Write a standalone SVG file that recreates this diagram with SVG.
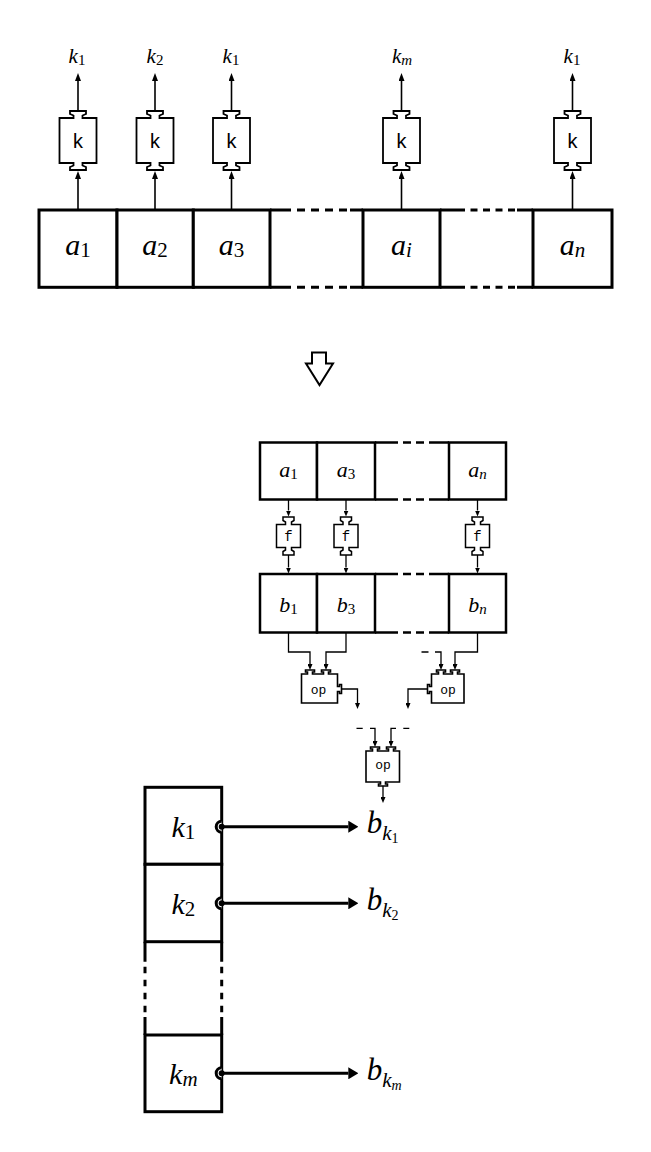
<svg xmlns="http://www.w3.org/2000/svg" xmlns:xlink="http://www.w3.org/1999/xlink" width="651" height="1152" viewBox="0 0 651 1152">
<style>
.cell{fill:#fff;stroke:#000;stroke-width:3}
.cellm{fill:#fff;stroke:#000;stroke-width:2.5}
.ln3{fill:none;stroke:#000;stroke-width:3}
.ln25{fill:none;stroke:#000;stroke-width:2.5}
.d1{fill:none;stroke:#000;stroke-width:3;stroke-dasharray:8 6}
.d2{fill:none;stroke:#000;stroke-width:3;stroke-dasharray:7 5.5}
.d3{fill:none;stroke:#000;stroke-width:2.5;stroke-dasharray:8 5}
.d4{fill:none;stroke:#000;stroke-width:3;stroke-dasharray:6.5 6.5}
.w1{fill:none;stroke:#000;stroke-width:1.6}
.w2{fill:none;stroke:#000;stroke-width:1.3}
.w3{fill:none;stroke:#000;stroke-width:3}
.op{fill:#fff;stroke:#000;stroke-width:1.6}
.m{font-family:"Liberation Serif","Times New Roman",serif;font-style:italic;fill:#000}
.up{font-style:normal}
.tt{font-family:"Liberation Mono",monospace;fill:#000;text-anchor:middle}
</style>
<defs>
<marker id="hA" markerUnits="userSpaceOnUse" viewBox="0 -3 8 6" refX="0" refY="0" markerWidth="8" markerHeight="6" orient="auto"><path d="M0,-3 L8,0 L0,3 Z" fill="#000"/></marker>
<marker id="hB" markerUnits="userSpaceOnUse" viewBox="0 -2.5 6 5" refX="0" refY="0" markerWidth="6" markerHeight="5" orient="auto"><path d="M0,-2.5 L6,0 L0,2.5 Z" fill="#000"/></marker>
<marker id="hC" markerUnits="userSpaceOnUse" viewBox="0 -6 10 12" refX="0" refY="0" markerWidth="10" markerHeight="12" orient="auto"><path d="M0,-6 L10,0 L0,6 Z" fill="#000"/></marker>
<path id="kbox" d="M-18.5,-22.5 H-4.5 V-25 L-8,-26.5 V-29.5 H8 V-26.5 L4.5,-25 V-22.5 H18.5 V22.5 H4.5 V25 L8,26.5 V29.5 H-8 V26.5 L-4.5,25 V22.5 H-18.5 Z" fill="#fff" stroke="#000" stroke-width="1.8"/>
<path id="fbox" d="M-12,-11.5 H-3 V-14 L-5.5,-15.5 V-19 H5.5 V-15.5 L3,-14 V-11.5 H12 V11.5 H3 V14 L5.5,15.5 V19 H-5.5 V15.5 L-3,14 V11.5 H-12 Z" fill="#fff" stroke="#000" stroke-width="1.5"/>
<path id="tap" d="M0,-5.5 A5.5,5.5 0 0 0 0,5.5" fill="#fff" stroke="#000" stroke-width="3"/>
</defs>

<!-- connectors -->
<g id="connectors">
  <g class="w1" marker-end="url(#hA)">
    <path d="M78,210 V179"/><path d="M155,210 V179"/><path d="M231.5,210 V179"/><path d="M401.5,210 V179"/><path d="M572.5,210 V179"/>
    <path d="M78,111 V81"/><path d="M155,111 V81"/><path d="M231.5,111 V81"/><path d="M401.5,111 V81"/><path d="M572.5,111 V81"/>
  </g>
  <g class="w2" marker-end="url(#hB)">
    <path d="M288.5,499.5 V510.5"/><path d="M346,499.5 V510.5"/><path d="M477.5,499.5 V510.5"/>
    <path d="M288.5,555 V567.5"/><path d="M346,555 V567.5"/><path d="M477.5,555 V567.5"/>
    <path d="M288.5,632.5 V652 H310 V664"/>
    <path d="M346,632.5 V652 H326 V664"/>
    <path d="M477.5,632.5 V652 H455 V664"/>
    <path d="M435,652 H441 V664"/>
    <path d="M341.5,689 H357.5 V703"/>
    <path d="M427.5,689 H408 V703"/>
    <path d="M370,728.3 H375 V741"/>
    <path d="M396,728.3 H391 V741"/>
    <path d="M383,786 V797"/>
  </g>
  <path class="w2" d="M421.5,652 H428.5 M356.5,728.3 H362.7 M403.3,728.3 H409.3"/>
  <g class="w3" marker-end="url(#hC)">
    <path d="M221.7,826.7 H348.3"/><path d="M221.7,903.3 H348.3"/><path d="M221.7,1073.3 H348.3"/>
  </g>
</g>

<!-- top array -->
<g id="top-array">
  <g id="a1"><rect class="cell" x="39" y="210" width="78" height="77.3"/><text class="m" x="78" y="255" font-size="30" text-anchor="middle">a<tspan class="up" font-size="21" dy="2">1</tspan></text></g>
  <g id="a2"><rect class="cell" x="117" y="210" width="76.3" height="77.3"/><text class="m" x="155" y="255" font-size="30" text-anchor="middle">a<tspan class="up" font-size="21" dy="2">2</tspan></text></g>
  <g id="a3"><rect class="cell" x="193.3" y="210" width="76.7" height="77.3"/><text class="m" x="231.5" y="255" font-size="30" text-anchor="middle">a<tspan class="up" font-size="21" dy="2">3</tspan></text></g>
  <g id="ai"><rect class="cell" x="363" y="210" width="77" height="77.3"/><text class="m" x="401.5" y="255" font-size="30" text-anchor="middle">a<tspan font-size="21" dy="2">i</tspan></text></g>
  <g id="an"><rect class="cell" x="533" y="210" width="79" height="77.3"/><text class="m" x="572.5" y="255" font-size="30" text-anchor="middle">a<tspan font-size="21" dy="2">n</tspan></text></g>
  <g id="top-gaps">
    <path class="ln3" d="M270,210 H283 M350,210 H363 M440,210 H458 M517,210 H533 M270,287.3 H283 M350,287.3 H363 M440,287.3 H458 M517,287.3 H533"/>
    <path class="d1" d="M283,210 H350 M283,287.3 H350"/>
    <path class="d2" d="M458,210 H517 M458,287.3 H517"/>
  </g>
</g>

<!-- k boxes -->
<g id="k-box-1"><use xlink:href="#kbox" href="#kbox" x="78" y="140.5"/><text class="tt" x="78" y="148" font-size="20">k</text></g>
<g id="k-box-2"><use xlink:href="#kbox" href="#kbox" x="155" y="140.5"/><text class="tt" x="155" y="148" font-size="20">k</text></g>
<g id="k-box-3"><use xlink:href="#kbox" href="#kbox" x="231.5" y="140.5"/><text class="tt" x="231.5" y="148" font-size="20">k</text></g>
<g id="k-box-4"><use xlink:href="#kbox" href="#kbox" x="401.5" y="140.5"/><text class="tt" x="401.5" y="148" font-size="20">k</text></g>
<g id="k-box-5"><use xlink:href="#kbox" href="#kbox" x="572.5" y="140.5"/><text class="tt" x="572.5" y="148" font-size="20">k</text></g>

<!-- top labels -->
<g id="top-labels">
  <text class="m" x="77" y="63" font-size="21" text-anchor="middle">k<tspan class="up" font-size="15" dy="2">1</tspan></text>
  <text class="m" x="155" y="63" font-size="21" text-anchor="middle">k<tspan class="up" font-size="15" dy="2">2</tspan></text>
  <text class="m" x="231" y="63" font-size="21" text-anchor="middle">k<tspan class="up" font-size="15" dy="2">1</tspan></text>
  <text class="m" x="402" y="63" font-size="21" text-anchor="middle">k<tspan font-size="15" dy="2">m</tspan></text>
  <text class="m" x="572" y="63" font-size="21" text-anchor="middle">k<tspan class="up" font-size="15" dy="2">1</tspan></text>
</g>

<!-- big down arrow -->
<g id="transform-arrow">
  <polygon points="312,352.5 326,352.5 326,363.5 333,363.5 319.5,385 306,363.5 312,363.5" fill="#fff" stroke="#000" stroke-width="2"/>
</g>

<!-- middle a array -->
<g id="mid-a-array">
  <g id="ma1"><rect class="cellm" x="260" y="442.5" width="57" height="57"/><text class="m" x="288.5" y="477" font-size="22" text-anchor="middle">a<tspan class="up" font-size="15" dy="2">1</tspan></text></g>
  <g id="ma3"><rect class="cellm" x="317" y="442.5" width="58" height="57"/><text class="m" x="346" y="477" font-size="22" text-anchor="middle">a<tspan class="up" font-size="15" dy="2">3</tspan></text></g>
  <g id="man"><rect class="cellm" x="449" y="442.5" width="57" height="57"/><text class="m" x="477.5" y="477" font-size="22" text-anchor="middle">a<tspan font-size="15" dy="2">n</tspan></text></g>
  <path class="ln25" d="M375,442.5 H390 M437,442.5 H449 M375,499.5 H390 M437,499.5 H449"/>
  <path class="d3" d="M390,442.5 H437 M390,499.5 H437"/>
</g>

<!-- f boxes -->
<g id="f-box-1"><use xlink:href="#fbox" href="#fbox" x="288.5" y="536"/><text class="tt" x="288.5" y="541" font-size="14">f</text></g>
<g id="f-box-2"><use xlink:href="#fbox" href="#fbox" x="346" y="536"/><text class="tt" x="346" y="541" font-size="14">f</text></g>
<g id="f-box-3"><use xlink:href="#fbox" href="#fbox" x="477.5" y="536"/><text class="tt" x="477.5" y="541" font-size="14">f</text></g>

<!-- middle b array -->
<g id="mid-b-array">
  <g id="mb1"><rect class="cellm" x="260" y="574" width="57" height="58.5"/><text class="m" x="288.5" y="612" font-size="22" text-anchor="middle">b<tspan class="up" font-size="15" dy="2">1</tspan></text></g>
  <g id="mb3"><rect class="cellm" x="317" y="574" width="58" height="58.5"/><text class="m" x="346" y="612" font-size="22" text-anchor="middle">b<tspan class="up" font-size="15" dy="2">3</tspan></text></g>
  <g id="mbn"><rect class="cellm" x="449" y="574" width="57" height="58.5"/><text class="m" x="477.5" y="612" font-size="22" text-anchor="middle">b<tspan font-size="15" dy="2">n</tspan></text></g>
  <path class="ln25" d="M375,574 H390 M437,574 H449 M375,632.5 H390 M437,632.5 H449"/>
  <path class="d3" d="M390,574 H437 M390,632.5 H437"/>
</g>

<!-- op boxes -->
<g id="op-1">
  <path class="op" d="M301.5,674 H307.5 V672 H305.5 V670 H314.5 V672 H312.5 V674 H323.5 V672 H321.5 V670 H330.5 V672 H328.5 V674 H337.5 V686.5 H339.5 V684.5 H341.5 V693.5 H339.5 V691.5 H337.5 V703 H301.5 Z"/>
  <text class="tt" x="318.5" y="694" font-size="13">op</text>
</g>
<g id="op-2">
  <path class="op" d="M431.5,674 H438.5 V672 H436.5 V670 H445.5 V672 H443.5 V674 H452.5 V672 H450.5 V670 H459.5 V672 H457.5 V674 H464 V703 H431.5 V691.5 H429.5 V693.5 H427.5 V684.5 H429.5 V686.5 H431.5 Z"/>
  <text class="tt" x="448" y="694" font-size="13">op</text>
</g>
<g id="op-3">
  <path class="op" d="M366,751 H372.5 V749 H370.5 V747 H379.5 V749 H377.5 V751 H388.5 V749 H386.5 V747 H395.5 V749 H393.5 V751 H399.5 V782 H385.5 V784 H387.5 V786 H378.5 V784 H380.5 V782 H366 Z"/>
  <text class="tt" x="383" y="768.5" font-size="13">op</text>
</g>

<!-- bottom k array -->
<g id="k-array">
  <g id="bk1"><rect class="cell" x="145" y="787.3" width="76.7" height="77"/><text class="m" x="183.3" y="837" font-size="30" text-anchor="middle">k<tspan class="up" font-size="21" dy="2">1</tspan></text></g>
  <g id="bk2"><rect class="cell" x="145" y="864.3" width="76.7" height="77.4"/><text class="m" x="183.3" y="914" font-size="30" text-anchor="middle">k<tspan class="up" font-size="21" dy="2">2</tspan></text></g>
  <g id="bkm"><rect class="cell" x="145" y="1035" width="76.7" height="76.7"/><text class="m" x="183.3" y="1083.5" font-size="30" text-anchor="middle">k<tspan font-size="21" dy="2">m</tspan></text></g>
  <path class="ln3" d="M145,941.7 V961.7 M221.7,941.7 V961.7 M145,1017 V1035 M221.7,1017 V1035"/>
  <path class="d4" d="M145,966.7 V1013 M221.7,966.7 V1013"/>
</g>

<!-- taps -->
<g id="taps">
  <use xlink:href="#tap" href="#tap" x="221.7" y="826.7"/><circle cx="221.7" cy="826.7" r="3" fill="#000"/>
  <use xlink:href="#tap" href="#tap" x="221.7" y="903.3"/><circle cx="221.7" cy="903.3" r="3" fill="#000"/>
  <use xlink:href="#tap" href="#tap" x="221.7" y="1073.3"/><circle cx="221.7" cy="1073.3" r="3" fill="#000"/>
</g>

<!-- result labels -->
<g id="b-k1"><text class="m" x="366.7" y="833" font-size="31">b<tspan font-size="21" dy="7">k</tspan><tspan class="up" font-size="14" dy="3">1</tspan></text></g>
<g id="b-k2"><text class="m" x="366.7" y="910" font-size="31">b<tspan font-size="21" dy="7">k</tspan><tspan class="up" font-size="14" dy="3">2</tspan></text></g>
<g id="b-km"><text class="m" x="366.7" y="1080" font-size="31">b<tspan font-size="21" dy="7">k</tspan><tspan font-size="14" dy="3">m</tspan></text></g>
</svg>
